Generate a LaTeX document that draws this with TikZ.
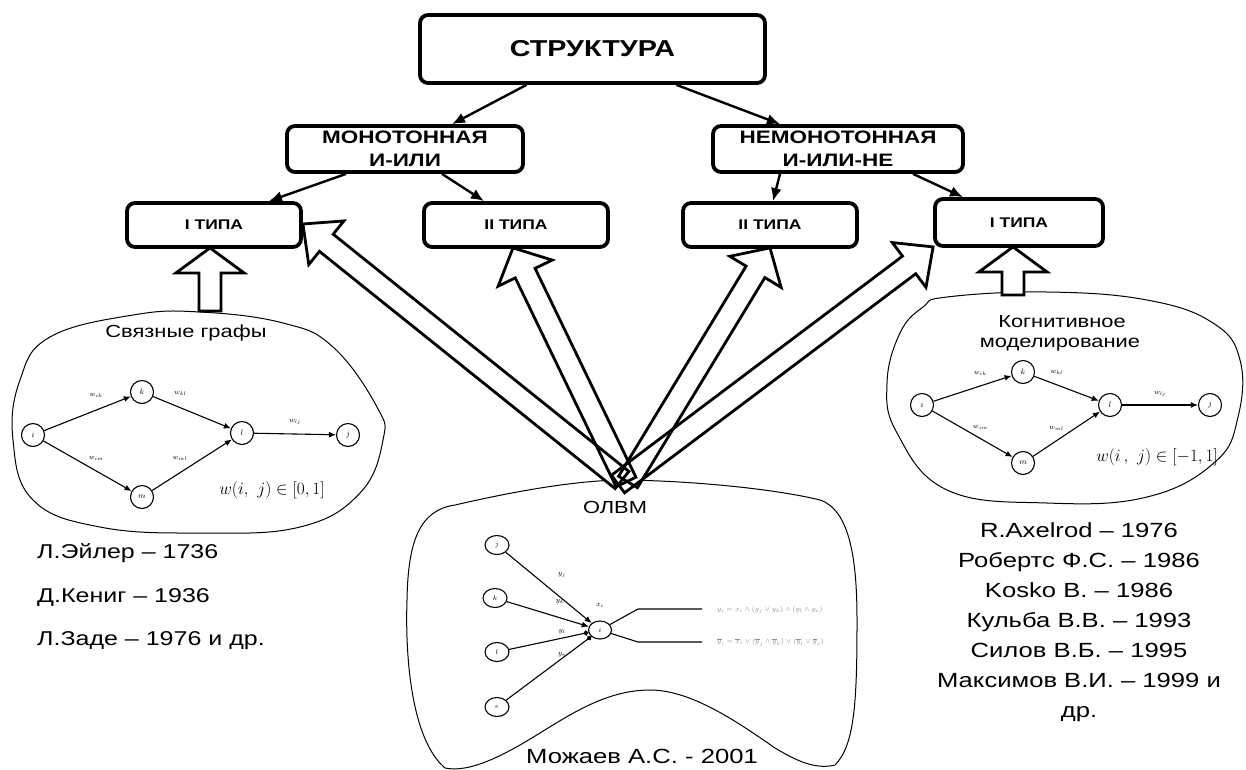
\documentclass[tikz,border=0pt]{standalone}
\usepackage{fontspec}
\setmainfont[FakeStretch=1.25]{Liberation Sans}
\usetikzlibrary{calc,arrows.meta,shapes.geometric}

% hollow block arrow: #1 tail, #2 tip, #3 half shaft width, #4 half head width, #5 head length, #6 style
\newcommand\blockarrow[6]{%
  \coordinate (bah) at ($(#2)!#5!(#1)$);
  \path[#6] ($(#1)!#3!90:(#2)$) -- ($(bah)!#3!-90:(#1)$) -- ($(bah)!#4!-90:(#1)$)
    -- (#2) -- ($(bah)!#4!90:(#1)$) -- ($(bah)!#3!90:(#1)$) -- ($(#1)!#3!-90:(#2)$) -- cycle;}

\begin{document}
\begin{tikzpicture}[x=1pt,y=-1pt,
  box/.style={draw, line width=3.8pt, rounded corners=8pt, inner sep=0pt, align=center,
    font=\bfseries\fontsize{14}{16}\selectfont},
  link/.style={line width=2.4pt, -{Latex[length=13pt,width=11pt]}},
  blob/.style={line width=1pt},
  gnode/.style={draw, circle, line width=1.1pt, minimum size=23pt, inner sep=0pt,
    font=\fontsize{8}{8}\selectfont},
  mnode/.style={draw, ellipse, line width=1.1pt, minimum width=24pt, minimum height=19pt,
    inner sep=0pt, font=\fontsize{7}{7}\selectfont},
  gedge/.style={line width=1.1pt, -{Latex[length=7pt,width=6pt]}},
  dedge/.style={line width=1.1pt, -{Circle[length=5pt]}},
  wlab/.style={font=\fontsize{7}{7}\selectfont, inner sep=1pt},
  txt/.style={inner sep=0pt, anchor=base},
  formula/.style={font=\fontsize{7.5}{8}\selectfont, text=black!45, anchor=west, inner sep=0pt},
  hollowfill/.style={fill=white},
  hollowline/.style={draw, line width=2.8pt, line join=miter}]

\useasboundingbox (0,0) rectangle (1246,769);
\fill[white] (0,0) rectangle (1246,769);

% ---------- outlines of the three model areas ----------
\draw[blob] plot[smooth cycle, tension=0.7] coordinates {(50,337) (133,315) (200,312) (283,323)
  (333,347) (377,407) (383,440) (360,493) (300,527) (200,533) (100,527) (33,500) (13,440) (20,380)};
\draw[blob] plot[smooth cycle, tension=0.7] coordinates {(947,297) (1047,292) (1147,300) (1213,323)
  (1240,360) (1238,417) (1215,462) (1147,497) (1047,503) (947,490) (897,433) (887,383) (900,333) (923,307)};
\draw[blob] (445,768) .. controls (412,740) and (405,660) .. (407,600)
  .. controls (408,540) and (420,510) .. (455,505)
  .. controls (520,490) and (580,480) .. (625,480)
  .. controls (700,481) and (780,490) .. (820,500)
  .. controls (850,510) and (857,560) .. (857,620)
  .. controls (857,700) and (855,745) .. (835,765)
  .. controls (815,770) and (795,760) .. (775,748)
  .. controls (735,720) and (690,690) .. (650,690)
  .. controls (600,690) and (560,722) .. (520,745)
  .. controls (490,762) and (465,772) .. (445,768) -- cycle;

% ---------- connected graphs ----------
\node[txt, font=\fontsize{17.5}{20}\selectfont] (lt) at (186,337) {Связные графы};
\node[gnode] (Li) at (33,435) {$i$};
\node[gnode] (Lk) at (142,392) {$k$};
\node[gnode] (Ll) at (242,433) {$l$};
\node[gnode] (Lj) at (348,435) {$j$};
\node[gnode] (Lm) at (142,497) {$m$};
\draw[gedge] (Li) -- node[wlab, pos=0.6, above=11pt] {$w_{ik}$} (Lk);
\draw[gedge] (Lk) -- node[wlab, pos=0.35, above=11pt] {$w_{kl}$} (Ll);
\draw[gedge] (Li) -- node[wlab, pos=0.6, above=9pt] {$w_{im}$} (Lm);
\draw[gedge] (Lm) -- node[wlab, pos=0.35, above=11pt] {$w_{ml}$} (Ll);
\draw[gedge] (Ll) -- node[wlab, pos=0.5, above=8pt] {$w_{lj}$} (Lj);
\node[font=\fontsize{17}{17}\selectfont] (lf) at (272,490) {$w(i,\ j)\in\left[0,1\right]$};

% ---------- cognitive modelling ----------
\node[txt, font=\fontsize{17.5}{20}\selectfont] (rt1) at (1062,327) {Когнитивное};
\node[txt, font=\fontsize{17.5}{20}\selectfont] (rt2) at (1060,347) {моделирование};
\node[gnode] (Ri) at (922,405) {$i$};
\node[gnode] (Rk) at (1023,372) {$k$};
\node[gnode] (Rl) at (1110,405) {$l$};
\node[gnode] (Rj) at (1210,405) {$j$};
\node[gnode] (Rm) at (1023,463) {$m$};
\draw[gedge] (Ri) -- node[wlab, pos=0.6, above=9pt] {$w_{ik}$} (Rk);
\draw[gedge] (Rk) -- node[wlab, pos=0.35, above=9pt] {$w_{kl}$} (Rl);
\draw[gedge] (Ri) -- node[wlab, pos=0.6, above=8pt] {$w_{im}$} (Rm);
\draw[gedge] (Rm) -- node[wlab, pos=0.35, above=9pt] {$w_{ml}$} (Rl);
\draw[gedge] (Rl) -- node[wlab, pos=0.5, above=7pt] {$w_{lj}$} (Rj);
\node[font=\fontsize{17}{17}\selectfont] (rf) at (1157,457) {$w(i\,,\ j)\in\left[-1,1\right]$};

% ---------- OLVM ----------
\node[txt, font=\fontsize{17.5}{20}\selectfont] (mt) at (615,513) {ОЛВМ};
\node[mnode] (Mj) at (497,545) {$j$};
\node[mnode] (Mk) at (495,598) {$k$};
\node[mnode] (Ml) at (497,652) {$l$};
\node[mnode] (Me) at (497,707) {$e$};
\node[mnode, minimum width=23pt, minimum height=18pt] (Mi) at (600,630) {$i$};
\draw[gedge] (Mj) -- (Mi);
\draw[gedge] (Mk) -- (Mi);
\draw[dedge] (Ml) -- (Mi);
\draw[dedge] (Me) -- (Mi);
\node[wlab] (lyj) at (562,575) {$y_j$};
\node[wlab] (lyk) at (560,602) {$y_k$};
\node[wlab] (lyl) at (562,632) {$y_l$};
\node[wlab] (lye) at (562,655) {$y_e$};
\node[wlab] (lxi) at (600,605) {$x_i$};
\coordinate (o1a) at (638,609);
\coordinate (o1b) at (702,609);
\coordinate (o2a) at (638,642);
\coordinate (o2b) at (702,642);
\draw[line width=1.1pt] (Mi) -- (o1a) -- (o1b);
\draw[line width=1.1pt] (Mi) -- (o2a) -- (o2b);
\node[formula] (f1) at (717,610) {$y_i=x_i\wedge(y_j\vee y_k)\wedge(y_l\wedge y_e)$};
\node[formula] (f2) at (717,642)
  {$\overline{y}_i=\overline{x}_i\vee(\overline{y}_j\wedge\overline{y}_k)\vee(\overline{y}_l\vee\overline{y}_e)$};
\node[txt, font=\fontsize{20.5}{24}\selectfont] (auth) at (642,763) {Можаев А.С. - 2001};

% ---------- authors ----------
\node[txt, anchor=base west, font=\fontsize{20}{24}\selectfont] (la1) at (37,558) {Л.Эйлер – 1736};
\node[txt, anchor=base west, font=\fontsize{20}{24}\selectfont] (la2) at (37,602) {Д.Кениг – 1936};
\node[txt, anchor=base west, font=\fontsize{20}{24}\selectfont] (la3) at (37,645) {Л.Заде – 1976 и др.};
\foreach \t [count=\n] in {R.Axelrod – 1976, Робертс Ф.С. – 1986, Kosko B. – 1986,
  Кульба В.В. – 1993, Силов В.Б. – 1995, Максимов В.И. – 1999 и, др.}
  \node[txt, font=\fontsize{20.5}{24}\selectfont] (ra\n) at (1079,507+30*\n) {\t};

% ---------- classification boxes ----------
\node[box, minimum width=345pt, minimum height=68pt, font=\bfseries\fontsize{23}{27}\selectfont]
  (str) at (592.5,49) {СТРУКТУРА};
\node[box, minimum width=236pt, minimum height=46pt, font=\bfseries\fontsize{18}{23}\selectfont]
  (mono) at (405,149) {МОНОТОННАЯ\\И-ИЛИ};
\node[box, minimum width=250pt, minimum height=46pt, font=\bfseries\fontsize{18}{23}\selectfont]
  (nemono) at (838,149) {НЕМОНОТОННАЯ\\И-ИЛИ-НЕ};
\node[box, minimum width=174pt, minimum height=44pt] (t1L) at (214,225) {I ТИПА};
\node[box, minimum width=184pt, minimum height=44pt] (t2L) at (516,225) {II ТИПА};
\node[box, minimum width=174pt, minimum height=44pt] (t2R) at (770,225) {II ТИПА};
\node[box, minimum width=168pt, minimum height=47pt] (t1R) at (1019,222.5) {I ТИПА};

\draw[link] ([xshift=-66pt]str.south) -- ([xshift=47pt]mono.north);
\draw[link] ([xshift=84pt]str.south) -- ([xshift=-58pt]nemono.north);
\draw[link] ([xshift=-59pt]mono.south) -- ([xshift=55pt]t1L.north);
\draw[link] ([xshift=37pt]mono.south) -- ([xshift=-32pt]t2L.north);
\draw[link] ([xshift=-58pt]nemono.south) -- ([xshift=3pt]t2R.north);
\draw[link] ([xshift=75pt]nemono.south) -- ([xshift=-56pt]t1R.north);

% ---------- hollow arrows ----------
\coordinate (tA) at (622,480);
\coordinate (tB) at (626,482);
\coordinate (tC) at (628,482);
\coordinate (tD) at (618,484);
\coordinate (tL) at (210,311);
\coordinate (tR) at (1013,295);
\coordinate (pA) at ([yshift=1pt]t1L.east);
\coordinate (pB) at ([xshift=-3pt,yshift=1pt]t2L.south);
\coordinate (pC) at ([yshift=1pt]t2R.south);
\coordinate (pD) at ([yshift=1pt]t1R.south west);
\coordinate (pL) at ([xshift=-4pt,yshift=1pt]t1L.south);
\coordinate (pR) at ([xshift=-6pt,yshift=1pt]t1R.south);
\foreach \st in {hollowfill, hollowline} {
  \blockarrow{tA}{pA}{11pt}{28pt}{30pt}{\st}
  \blockarrow{tB}{pB}{11pt}{30pt}{28pt}{\st}
  \blockarrow{tC}{pC}{11pt}{30pt}{28pt}{\st}
  \blockarrow{tD}{pD}{11pt}{28pt}{30pt}{\st}
  \blockarrow{tL}{pL}{11pt}{34pt}{25pt}{\st}
  \blockarrow{tR}{pR}{11pt}{34pt}{25pt}{\st}
}
\end{tikzpicture}
\end{document}
